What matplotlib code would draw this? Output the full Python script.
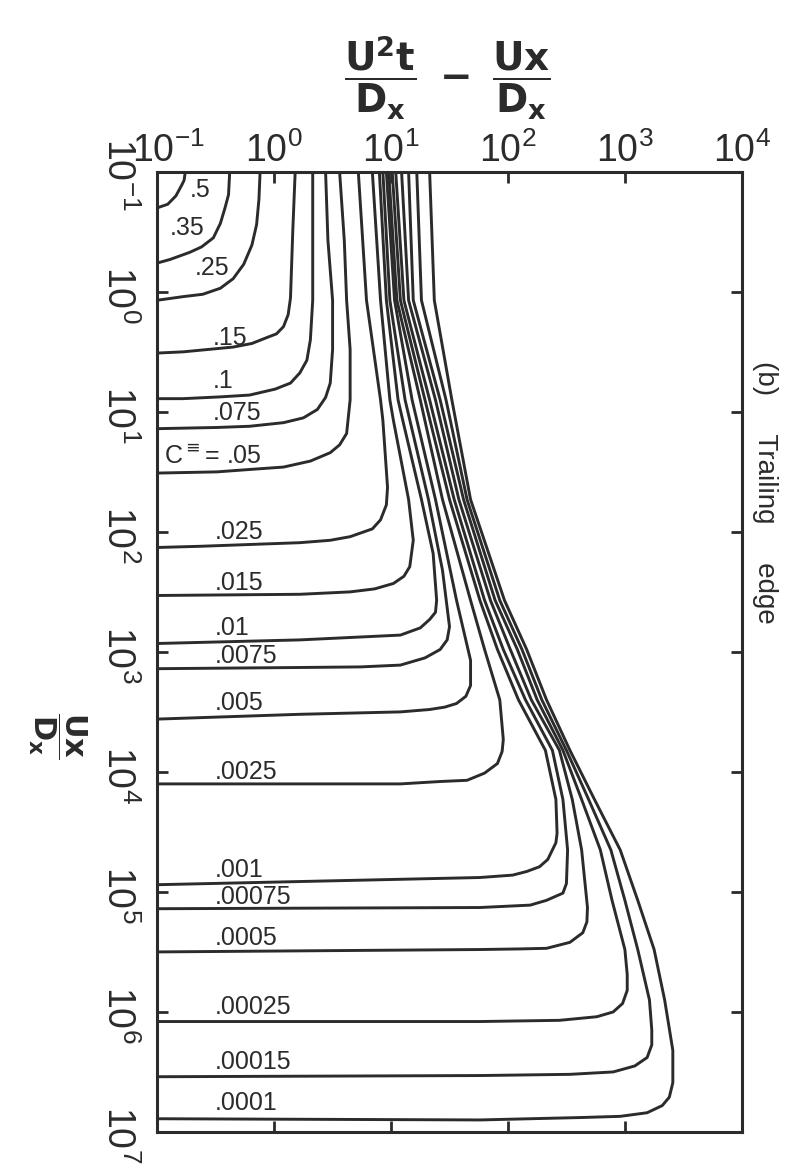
import numpy as np
import matplotlib
matplotlib.use("Agg")
import matplotlib.pyplot as plt
import matplotlib.transforms as mtransforms

plt.rcParams['font.family'] = ['Liberation Sans', 'DejaVu Sans']
plt.rcParams['mathtext.fontset'] = 'dejavusans'

# curve labels (C* levels)
levels = [".5", ".35", ".25", ".15", ".1", ".075", r"C$^{\equiv}$= .05", ".025", ".015", ".01",
          ".0075", ".005", ".0025", ".001", ".00075", ".0005", ".00025", ".00015", ".0001"]

# curves, as log10 of the axis values
lx_5 = [-0.76, -0.77, -0.79, -0.84, -0.91, -1.00]
ly_5 = [-1.00, -0.93, -0.89, -0.80, -0.73, -0.70]
lx_35 = [-0.38, -0.39, -0.42, -0.46, -0.52, -0.62, -0.72, -0.89, -1.00]
ly_35 = [-1.00, -0.81, -0.70, -0.57, -0.45, -0.375, -0.33, -0.27, -0.24]
lx_25 = [-0.12, -0.13, -0.15, -0.19, -0.26, -0.35, -0.46, -0.61, -0.78, -1.00]
ly_25 = [-1.00, -0.77, -0.56, -0.39, -0.23, -0.11, -0.03, 0.02, 0.04, 0.07]
lx_15 = [0.18, 0.16, 0.14, 0.12, 0.08, 0.02, -0.06, -0.19, -0.35, -0.78, -1.00]
ly_15 = [-1.00, -0.52, 0.05, 0.19, 0.29, 0.35, 0.38, 0.43, 0.46, 0.50, 0.51]
lx_1 = [0.33, 0.33, 0.33, 0.31, 0.28, 0.22, 0.14, 0.01, -0.21, -0.46, -0.78, -1.00]
ly_1 = [-1.00, -0.35, 0.07, 0.40, 0.57, 0.675, 0.76, 0.81, 0.86, 0.875, 0.89, 0.89]
lx_075 = [0.44, 0.46, 0.50, 0.50, 0.48, 0.44, 0.37, 0.25, 0.08, -0.21, -0.49, -1.00]
ly_075 = [-1.00, -0.43, 0.07, 0.48, 0.76, 0.88, 0.98, 1.05, 1.09, 1.12, 1.13, 1.14]
lx_05 = [0.56, 0.60, 0.62, 0.65, 0.65, 0.62, 0.56, 0.48, 0.31, 0.08, -0.21, -0.49, -1.00]
ly_05 = [-1.00, -0.43, 0.07, 0.48, 0.90, 1.18, 1.275, 1.34, 1.41, 1.46, 1.48, 1.50, 1.51]
lx_025 = [0.72, 0.79, 0.91, 0.93, 0.97, 0.96, 0.91, 0.84, 0.65, 0.48, 0.22, -0.63, -1.00]
ly_025 = [-1.00, 0.07, 0.90, 1.07, 1.63, 1.775, 1.90, 1.975, 2.04, 2.07, 2.09, 2.12, 2.13]
lx_015 = [0.84, 0.91, 0.99, 1.02, 1.15, 1.19, 1.16, 1.11, 1.02, 0.86, 0.65, 0.22, -1.00]
ly_015 = [-1.00, 0.07, 0.90, 1.07, 1.73, 2.07, 2.29, 2.37, 2.43, 2.475, 2.50, 2.52, 2.53]
lx_01 = [0.90, 0.96, 1.06, 1.10, 1.26, 1.36, 1.39, 1.38, 1.33, 1.25, 1.08, 0.65, 0.22, -1.00]
ly_01 = [-1.00, 0.07, 0.90, 1.07, 1.73, 2.18, 2.57, 2.67, 2.73, 2.80, 2.86, 2.88, 2.90, 2.93]
lx_0075 = [0.93, 0.99, 1.12, 1.32, 1.44, 1.50, 1.48, 1.42, 1.29, 1.08, 0.74, 0.22, -1.00]
ly_0075 = [-1.00, 0.07, 0.90, 1.73, 2.32, 2.79, 2.90, 2.98, 3.05, 3.11, 3.125, 3.13, 3.14]
lx_005 = [0.96, 1.03, 1.18, 1.38, 1.56, 1.68, 1.68, 1.64, 1.56, 1.46, 1.33, 1.08, 0.22, -1.00]
ly_005 = [-1.00, 0.07, 0.90, 1.73, 2.57, 3.07, 3.28, 3.37, 3.43, 3.46, 3.48, 3.50, 3.52, 3.56]
lx_0025 = [0.98, 1.05, 1.25, 1.44, 1.68, 1.80, 1.93, 1.96, 1.95, 1.91, 1.80, 1.65, 1.42, 1.08, -1.00]
ly_0025 = [-1.00, 0.07, 0.90, 1.73, 2.57, 2.98, 3.40, 3.73, 3.83, 3.93, 4.01, 4.07, 4.08, 4.10, 4.10]
lx_001 = [1.01, 1.08, 1.29, 1.50, 1.76, 1.91, 2.09, 2.32, 2.41, 2.42, 2.41, 2.38, 2.34, 2.27, 2.16,
          2.04, 1.76, -1.00]
ly_001 = [-1.00, 0.07, 0.90, 1.73, 2.57, 2.98, 3.40, 3.82, 4.23, 4.51, 4.59, 4.65, 4.73, 4.79, 4.83,
          4.86, 4.88, 4.94]
lx_00075 = [1.04, 1.11, 1.33, 1.54, 1.80, 1.96, 2.15, 2.38, 2.47, 2.51, 2.50, 2.47, 2.33, 2.19, 1.76, -1.00]
ly_00075 = [-1.00, 0.07, 0.90, 1.73, 2.57, 2.98, 3.40, 3.82, 4.23, 4.65, 4.93, 5.01, 5.07, 5.11, 5.13, 5.14]
lx_0005 = [1.09, 1.15, 1.38, 1.58, 1.85, 2.02, 2.20, 2.44, 2.55, 2.63, 2.68, 2.675, 2.64, 2.53, 2.33,
           2.10, 1.76, -1.00]
ly_0005 = [-1.00, 0.07, 0.90, 1.73, 2.57, 2.98, 3.40, 3.82, 4.23, 4.65, 5.13, 5.25, 5.34, 5.42, 5.47,
           5.475, 5.48, 5.50]
lx_00025 = [1.15, 1.19, 1.42, 1.62, 1.89, 2.08, 2.25, 2.47, 2.63, 2.79, 2.89, 3.00, 3.02, 3.02, 2.98,
            2.90, 2.76, 2.44, 1.76, -1.00]
ly_00025 = [-1.00, 0.07, 0.90, 1.73, 2.57, 2.98, 3.40, 3.82, 4.23, 4.65, 5.07, 5.48, 5.69, 5.82, 5.93,
            6.00, 6.04, 6.07, 6.08, 6.08]
lx_00015 = [1.22, 1.26, 1.47, 1.65, 1.93, 2.12, 2.29, 2.50, 2.69, 2.88, 3.00, 3.11, 3.21, 3.23, 3.23,
            3.19, 3.085, 2.90, 2.53, 1.76, -1.00]
ly_00015 = [-1.00, 0.07, 0.90, 1.73, 2.57, 2.98, 3.40, 3.82, 4.23, 4.65, 5.07, 5.48, 5.90, 6.15, 6.275,
            6.38, 6.45, 6.50, 6.52, 6.53, 6.54]
lx_0001 = [1.33, 1.37, 1.52, 1.68, 1.97, 2.16, 2.33, 2.53, 2.74, 2.96, 3.11, 3.25, 3.34, 3.41, 3.41,
           3.41, 3.38, 3.32, 3.19, 2.96, 2.62, 1.76, -1.00]
ly_0001 = [-1.00, 0.07, 0.90, 1.73, 2.57, 2.98, 3.40, 3.82, 4.23, 4.65, 5.07, 5.48, 5.90, 6.32, 6.46,
           6.59, 6.71, 6.78, 6.84, 6.87, 6.88, 6.90, 6.89]

curves = [(lx_5, ly_5), (lx_35, ly_35), (lx_25, ly_25), (lx_15, ly_15), (lx_1, ly_1),
          (lx_075, ly_075), (lx_05, ly_05), (lx_025, ly_025), (lx_015, ly_015), (lx_01, ly_01),
          (lx_0075, ly_0075), (lx_005, ly_005), (lx_0025, ly_0025), (lx_001, ly_001),
          (lx_00075, ly_00075), (lx_0005, ly_0005), (lx_00025, ly_00025), (lx_00015, ly_00015),
          (lx_0001, ly_0001)]

# label placement (axes fraction)
label_fx = [0.056, 0.022, 0.065, 0.095, 0.095, 0.095, 0.012, 0.099, 0.099, 0.099,
            0.099, 0.099, 0.099, 0.099, 0.099, 0.099, 0.099, 0.099, 0.099]
label_fy = [0.981, 0.942, 0.900, 0.827, 0.782, 0.749, 0.703, 0.625, 0.572, 0.525,
            0.496, 0.447, 0.375, 0.273, 0.245, 0.202, 0.130, 0.073, 0.030]

ink = '#2b2b2b'
fig = plt.figure(figsize=(7.9, 11.69), dpi=100)
ax = fig.add_axes([0.199, 0.0317, 0.740, 0.8213])

for lx, ly in curves:
    ax.plot(10.0 ** np.array(lx), 10.0 ** np.array(ly), color=ink, lw=2.1,
            solid_joinstyle='round', solid_capstyle='butt')

for lab, fx, fy in zip(levels, label_fx, label_fy):
    ax.text(fx, fy, lab, transform=ax.transAxes, fontsize=18, color=ink,
            ha='left', va='center')

ax.set_xscale('log')
ax.set_yscale('log')
ax.set_xlim(1e-1, 1e4)
ax.set_ylim(1e7, 1e-1)
ax.xaxis.set_ticks_position('both')
ax.yaxis.set_ticks_position('both')
ax.tick_params(axis='x', which='major', direction='in', length=8, width=2,
               labeltop=True, labelbottom=False, labelsize=27, pad=1, colors=ink)
ax.tick_params(axis='y', which='major', direction='in', length=8, width=2,
               labelleft=True, labelright=False, labelsize=27, pad=15, colors=ink)
ax.tick_params(which='minor', length=0)
ax.set_xticks([1e-1, 1e0, 1e1, 1e2, 1e3, 1e4])
ax.set_yticks([1e-1, 1e0, 1e1, 1e2, 1e3, 1e4, 1e5, 1e6, 1e7])

# rotated y labels sit a little below their ticks, as in the original
down = mtransforms.ScaledTranslation(0, -2 / 72, fig.dpi_scale_trans)
for t in ax.get_yticklabels():
    t.set_rotation(-90)
    t.set_va('center')
    t.set_transform(t.get_transform() + down)
right = mtransforms.ScaledTranslation(8 / 72, 0, fig.dpi_scale_trans)
first = ax.get_xticklabels()[0]
first.set_transform(first.get_transform() + right)

for s in ax.spines.values():
    s.set_linewidth(2.2)
    s.set_color(ink)

fig.text(0.566, 0.933, r'$\mathbf{\dfrac{U^2t}{D_x}\ -\ \dfrac{Ux}{D_x}}$',
         ha='center', va='center', fontsize=28, color=ink)
fig.text(0.072, 0.371, r'$\mathbf{\dfrac{Ux}{D_x}}$', rotation=-90,
         ha='center', va='center', fontsize=22, color=ink)
fig.text(0.968, 0.579, '(b)     Trailing     edge', rotation=-90,
         ha='center', va='center', fontsize=20, color=ink)

fig.savefig('out.png', dpi=100)
